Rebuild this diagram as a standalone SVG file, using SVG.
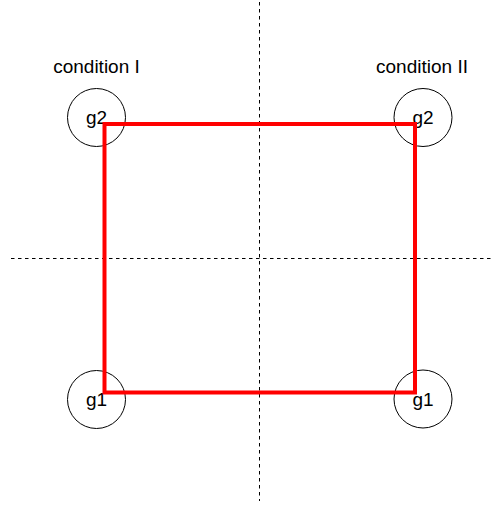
<svg xmlns="http://www.w3.org/2000/svg" width="498" height="506" viewBox="0 0 498 506">
<style>
  .lbl { font-family: "Liberation Sans", Arial, sans-serif; font-size: 19px; fill: #000; text-anchor: middle; }
  .node circle { fill: none; stroke: #000; stroke-width: 1; }
  .axis { stroke: #000; stroke-width: 1; stroke-dasharray: 3.5 3.5; fill: none; }
  .edge { stroke: #ff0000; stroke-width: 4; fill: none; stroke-linecap: butt; stroke-linejoin: miter; }
</style>
<rect width="498" height="506" fill="#fff"/>
<g id="axes">
  <line class="axis" x1="259.5" y1="2" x2="259.5" y2="501"/>
  <line class="axis" x1="11" y1="258.5" x2="494" y2="258.5"/>
</g>
<g id="titles">
  <text class="lbl" x="96.5" y="73">condition I</text>
  <text class="lbl" x="422" y="73">condition II</text>
</g>
<g id="n-g2-left" class="node">
  <circle cx="96.5" cy="117.5" r="29"/>
  <text class="lbl" x="96.5" y="124">g2</text>
</g>
<g id="n-g2-right" class="node">
  <circle cx="423" cy="117.5" r="29"/>
  <text class="lbl" x="423" y="124">g2</text>
</g>
<g id="n-g1-left" class="node">
  <circle cx="96.5" cy="399.5" r="29"/>
  <text class="lbl" x="96.5" y="406">g1</text>
</g>
<g id="n-g1-right" class="node">
  <circle cx="423" cy="399" r="29"/>
  <text class="lbl" x="423" y="406">g1</text>
</g>
<g id="connectors">
  <polygon class="edge" points="104.5,124 415,124 415,392.5 104.5,392.5"/>
</g>
</svg>
